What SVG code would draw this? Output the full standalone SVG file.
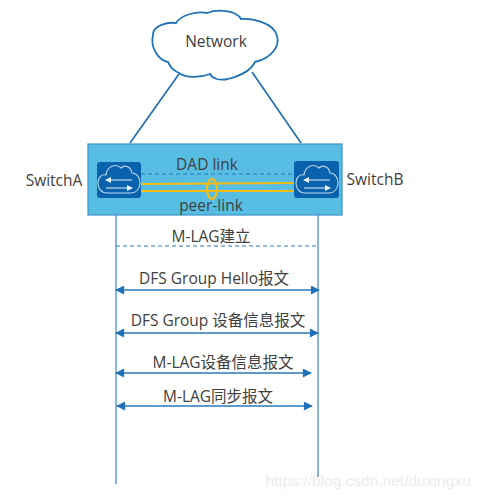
<svg xmlns="http://www.w3.org/2000/svg" width="480" height="499" viewBox="0 0 480 499">
<style>
text{font-family:"Open Sans","Noto Sans","Noto Sans CJK SC",sans-serif;font-size:15.5px;fill:#404040;text-anchor:middle}
.wire{fill:none;stroke:#2270b2;stroke-width:1.7}
.life{fill:none;stroke:#5f9fd3;stroke-width:1.5}
.msg{fill:none;stroke:#2a78bd;stroke-width:1.4;marker-start:url(#a);marker-end:url(#a)}
.gold{fill:none;stroke:#f5bd12;stroke-width:2.2}
.dash{fill:none;stroke:#2a78bd;stroke-width:1.2;stroke-dasharray:4 3}
.ic{fill:none;stroke:#b9d6ea;stroke-width:1.1}
.sw{fill:#0a62ac}
</style>
<defs>
<marker id="a" viewBox="0 0 10 10" refX="9" refY="5" markerWidth="10" markerHeight="9" markerUnits="userSpaceOnUse" orient="auto-start-reverse"><path d="M0 0L10 5L0 10Z" fill="#1f72b8"/></marker>
<g id="ic"><path class="ic" d="M-12 13C-18 13-21 8-21 3C-21-3-17-6-13-5C-12-14-3-17 2-12C6-16 12-13 13-7C18-7 21-2 21 3C21 9 17 13 12 13Z"/><path d="M-13 0H13M-13 8H13" stroke="#e6f0f7" stroke-width="1" fill="none"/><path d="M-14 0L-8-3V3ZM14 8L8 5V11Z" fill="#e6f0f7"/></g>
</defs>
<g id="connectors">
<path class="wire" d="M130 143L179 74M301 143L252 72"/>
<path class="life" d="M116 213V484M318 213V477"/>
<path class="dash" d="M116 246H318"/>
<path class="msg" d="M116 290H319"/>
<path class="msg" d="M116 333H318"/>
<path class="msg" d="M116 373H311"/>
<path class="msg" d="M117 406H312"/>
</g>
<g id="network"><path d="M153 35C153 25 168 22 176 23C181 15 196 11 207 13C217 9 236 10 241 19C250 18 274 22 277 36C280 46 272 58 255 62C251 70 240 76 228 79C218 81 212 78 210 74C200 78 186 78 179 73C172 70 170 66 168 62C158 60 150 47 153 35Z" fill="#fff" stroke="#2273b6" stroke-width="1.8"/><text x="216" y="47">Network</text></g>
<g id="band"><rect x="88" y="144" width="254" height="71" fill="#57bde3" stroke="#3b91c6" stroke-width="1.2"/></g>
<g id="links">
<path class="dash" d="M141 174H294"/>
<path class="gold" d="M141 184L294 183M141 191L294 191"/>
<ellipse class="gold" cx="212" cy="189" rx="5" ry="10"/>
<text x="207" y="170">DAD link</text>
<text x="211" y="211">peer-link</text>
</g>
<g id="switchA"><rect x="97" y="162" width="44" height="36" rx="3" class="sw"/><use href="#ic" x="119" y="180"/><text x="54" y="186">SwitchA</text></g>
<g id="switchB"><rect x="294" y="161" width="45" height="37" rx="3" class="sw"/><use href="#ic" x="317" y="180"/><text x="375" y="185">SwitchB</text></g>
<g id="labels">
<text x="211" y="242">M-LAG建立</text>
<text x="214" y="284">DFS Group Hello报文</text>
<text x="218" y="326">DFS Group 设备信息报文</text>
<text x="223" y="368">M-LAG设备信息报文</text>
<text x="218" y="402">M-LAG同步报文</text>
<text x="368" y="486" style="font-family:'Liberation Sans',sans-serif;font-size:15.5px;fill:#ececec">https://blog.csdn.net/duxingxu</text>
</g>
</svg>
